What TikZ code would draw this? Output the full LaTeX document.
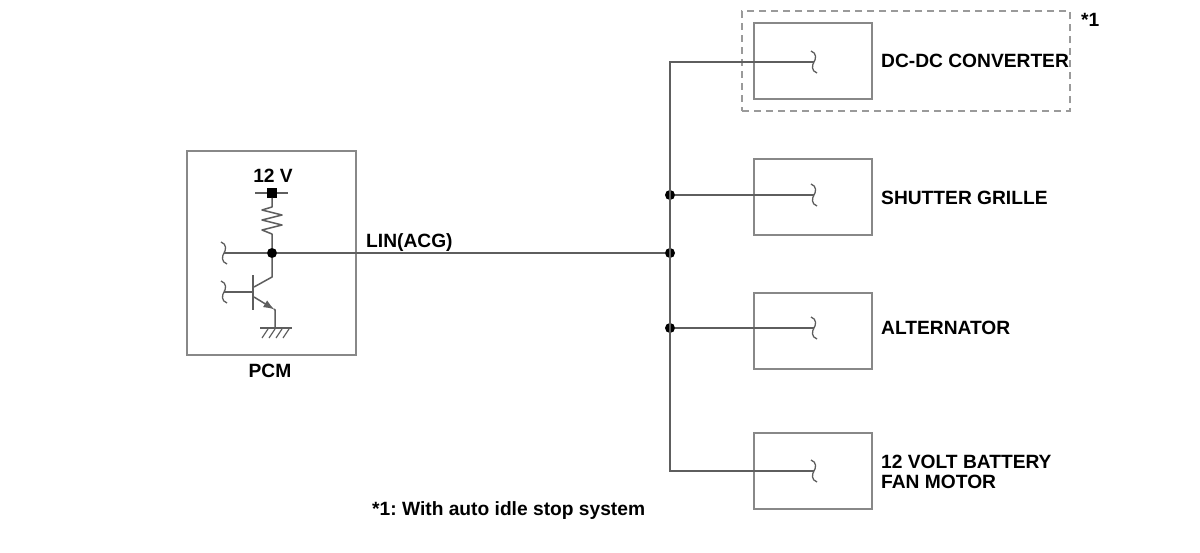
\documentclass[tikz,border=0pt]{standalone}
\usepackage{fontspec}
\setmainfont{Liberation Sans}
\usetikzlibrary{arrows.meta}
\definecolor{wirec}{HTML}{5E5E5E}
\definecolor{boxc}{HTML}{888888}
\definecolor{dashc}{HTML}{9A9A9A}
\frenchspacing
\begin{document}
\begin{tikzpicture}[x=1pt,y=-1pt,
  wire/.style={draw=wirec, line width=1.5pt},
  box/.style={draw=boxc, line width=2pt, inner sep=0pt, minimum width=118pt, minimum height=76pt},
  lbl/.style={inner sep=0pt, anchor=base west, font=\bfseries\fontsize{19.2}{20}\selectfont, text=black},
  clbl/.style={inner sep=0pt, anchor=base, font=\bfseries\fontsize{19.2}{20}\selectfont, text=black},
  jdot/.style={circle, fill=black, inner sep=0pt, minimum size=10pt},
  squig/.pic={\draw[wire, line width=1.3pt] (-3,-11) .. controls (3,-9) and (2,-3) .. (0,0) .. controls (-2,3) and (-3,9) .. (3,11);}
]
\useasboundingbox[fill=white] (0,0) rectangle (1200,552);

% ---------- PCM ----------
\node (pcm) [draw=boxc, line width=2pt, inner sep=0pt, minimum width=169pt, minimum height=204pt] at (271.5,253) {};
\node (pcmlbl) [clbl] at (270,377) {PCM};
\node (v12) [clbl] at (273,182) {12 V};
\coordinate (tl) at (255,193);
\coordinate (tr) at (288,193);
\draw[wire] (tl) -- (tr);
\node (vcc) [fill=black, inner sep=0pt, minimum size=9.5pt] at (272,193) {};
\node (n) [jdot] at (272,253) {};
% resistor
\draw[wire, line join=round] (vcc) -- (272,207) -- (262,210) -- (282,215) -- (262,220) -- (282,225) -- (262,230) -- (272,234) -- (n);
% left inputs
\coordinate (in1) at (224,253);
\coordinate (in2) at (224,292);
\pic at (in1) {squig};
\pic at (in2) {squig};
\draw[wire] (in1) -- (n);
% transistor
\coordinate (bb) at (253,292);
\draw[wire] (in2) -- (bb);
\draw[draw=wirec, line width=2.2pt] (253,275) -- (253,310);
\draw[wire] (n) -- (272,277) -- (254,287);
\draw[wire, -{Latex[length=11pt,width=8pt]}] (254,297) -- (274.5,309.5);
\coordinate (gnd) at (275,328);
\draw[wire] (274,309) -- (275,310) -- (gnd);
\draw[wire] (260,328) -- (292,328);
\foreach \hx in {268,275,282,289} \draw[wire, line width=1.2pt] (\hx,329) -- (\hx-6,338);

% ---------- line ----------
\node (lin) [lbl] at (366,247) {LIN(ACG)};
\coordinate (bt) at (670,62);
\coordinate (bb2) at (670,471);
\node (j1) [jdot] at (670,195) {};
\node (j2) [jdot] at (670,253) {};
\node (j3) [jdot] at (670,328) {};
\draw[wire] (n) -- (j2);

% ---------- boxes ----------
\node (opt) [draw=dashc, line width=2pt, dash pattern=on 7pt off 5pt, inner sep=0pt, minimum width=328pt, minimum height=100pt] at (906,61) {};
\node (star) [lbl] at (1081,26) {*1};
\node (dc) [box] at (813,61) {};
\node (sg) [box] at (813,196.5) {};
\node (alt) [box] at (813,330.5) {};
\node (fan) [box] at (813,471) {};

\coordinate (s1) at (814,62);
\coordinate (s2) at (814,195);
\coordinate (s3) at (814,328);
\coordinate (s4) at (814,471);
\foreach \s in {s1,s2,s3,s4} \pic at (\s) {squig};

\draw[wire] (s1) -- (bt) -- (bb2) -- (s4);
\draw[wire] (j1) -- (s2);
\draw[wire] (j3) -- (s3);

\node (dcl) [lbl] at (881,67) {DC-DC CONVERTER};
\node (sgl) [lbl] at (881,204) {SHUTTER GRILLE};
\node (altl) [lbl] at (881,334) {ALTERNATOR};
\node (fanl1) [lbl] at (881,468) {12 VOLT BATTERY};
\node (fanl2) [lbl] at (881,488) {FAN MOTOR};
\node (note) [lbl] at (372,515) {*1: With auto idle stop system};
\end{tikzpicture}
\end{document}
